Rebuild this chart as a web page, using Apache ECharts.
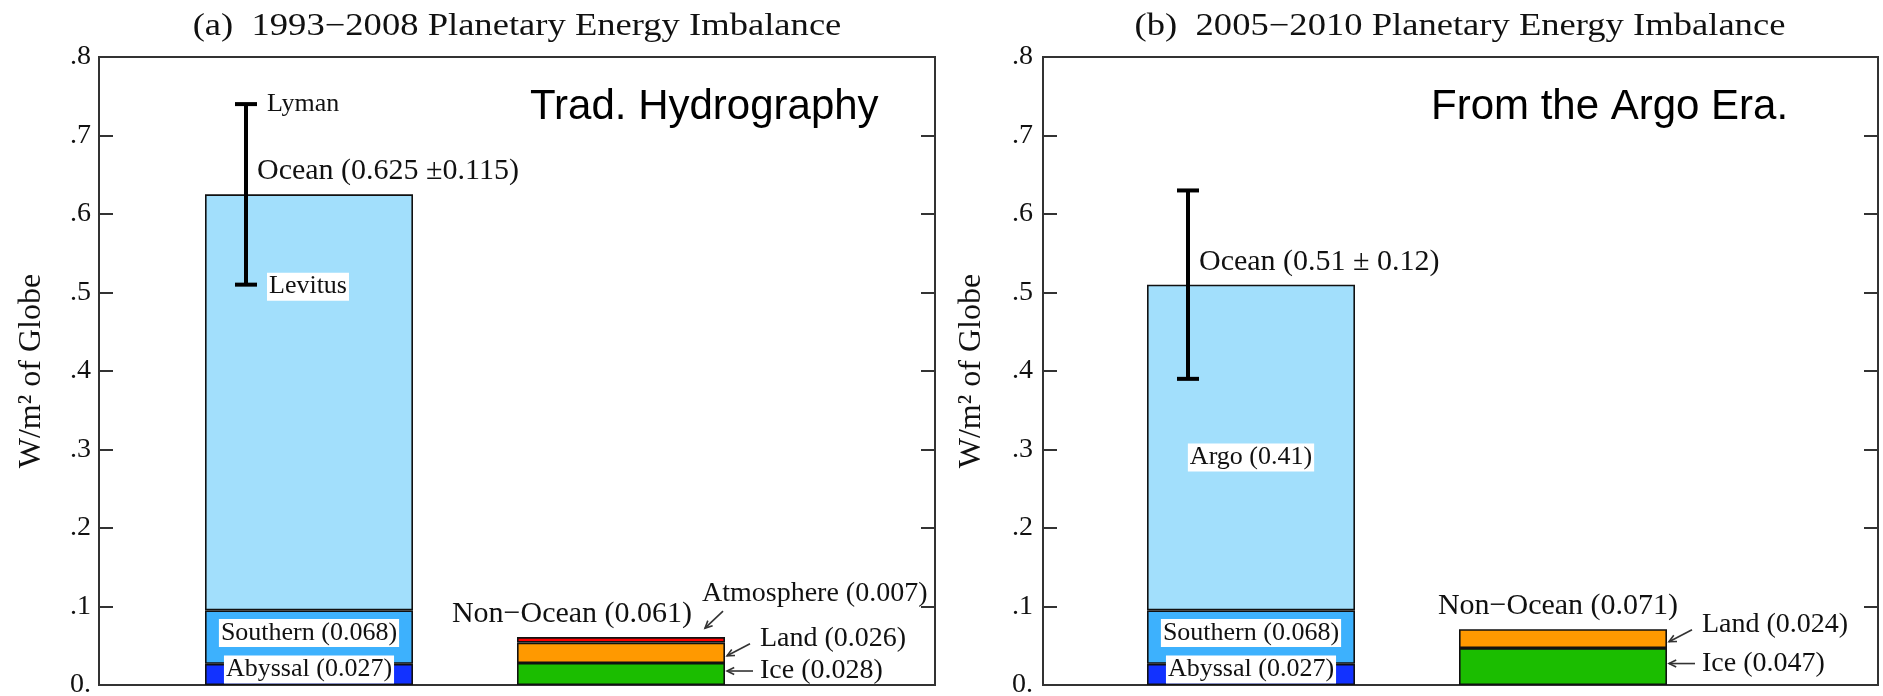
<!DOCTYPE html>
<html>
<head>
<meta charset="utf-8">
<script src="https://cdn.jsdelivr.net/npm/echarts@6/dist/echarts.min.js"></script>
<style>
  html, body { margin: 0; padding: 0; background: #fff; }
  #chart { width: 1883px; height: 696px; }
</style>
</head>
<body>
<div id="chart"></div>
<script>
// ---- data -------------------------------------------------------------
const panelTitles = ['(a)  1993\u22122008 Planetary Energy Imbalance', '(b)  2005\u22122010 Planetary Energy Imbalance'];
const panelNotes = ['Trad. Hydrography', 'From the Argo Era.'];
const categories = ['Ocean', 'Non-Ocean'];
const yTickLabels = ['0.', '.1', '.2', '.3', '.4', '.5', '.6', '.7', '.8'];

// ocean column, bottom to top (W/m^2 of globe)
const abyssal = [0.027, 0.027];
const southern = [0.068, 0.068];
const upperOcean = [0.530, 0.415];
const upperOceanNames = [null, 'Argo'];
const oceanTotal = [0.625, 0.51];
const oceanError = [0.115, 0.12];
const oceanLabels = ['Ocean (0.625 \u00b10.115)', 'Ocean (0.51 \u00b1 0.12)'];
const errorSources = [['Levitus', 'Lyman'], null];

// non-ocean column, bottom to top
const ice = [0.028, 0.047];
const land = [0.026, 0.024];
const atmosphere = [0.007, null];
const nonOceanTotal = [0.061, 0.071];

// ---- styling / layout -------------------------------------------------
const SERIF = "'Liberation Serif','Times New Roman',serif";
const SANS = "'Liberation Sans',Arial,sans-serif";
const INK = '#111';
const COLORS = {
  abyssal: '#1232ff', southern: '#3db1fd', upper: '#a2dffc',
  ice: '#1bbd00', land: '#ff9900', atmosphere: '#ff0000'
};
const BAR_WIDTH = 208;
const layout = [
  { frame: { left: 99, top: 57, width: 836, height: 628 }, bars: { left: 153, top: 57, width: 624, height: 628 },
    titleX: 517, noteX: 530, nonOceanDx: -49, nameGap: 51, labelMargin: 8 },
  { frame: { left: 1043, top: 57, width: 835, height: 628 }, bars: { left: 1095, top: 57, width: 624, height: 628 },
    titleX: 1460, noteX: 1431, nonOceanDx: -5, nameGap: 55, labelMargin: 10 }
];

function text(x, y, str, size, extra) {
  return {
    type: 'text', x: x, y: y,
    style: Object.assign({
      text: str, font: size + 'px ' + SERIF, fill: INK,
      align: 'left', verticalAlign: 'middle', textAlign: 'left', textVerticalAlign: 'middle'
    }, extra || {})
  };
}

function boxText(x, y, str) {
  return text(x, y, str, 26, {
    align: 'center', textAlign: 'center', backgroundColor: '#fff', padding: [1, 2]
  });
}

function arrow(x1, y1, x2, y2) {
  const a = Math.atan2(y2 - y1, x2 - x1), L = 8, s = 0.45;
  const st = { stroke: '#333', lineWidth: 1.6, fill: null };
  return [
    { type: 'line', shape: { x1: x1, y1: y1, x2: x2, y2: y2 }, style: st },
    { type: 'polyline', shape: { points: [
      [x2 - L * Math.cos(a - s), y2 - L * Math.sin(a - s)], [x2, y2],
      [x2 - L * Math.cos(a + s), y2 - L * Math.sin(a + s)]
    ] }, style: st }
  ];
}

// segment names, error bar, column totals and the side call-outs
function annotate(p, api) {
  const kids = [];
  const yOf = v => api.coord([0, v])[1];
  const oceanX = api.coord([0, 0])[0];
  const nonX = api.coord([1, 0])[0];
  const half = BAR_WIDTH / 2;

  // names inside the ocean column
  kids.push(boxText(oceanX, yOf(abyssal[p] / 2) - 5, 'Abyssal (' + abyssal[p].toFixed(3) + ')'));
  kids.push(boxText(oceanX, yOf(abyssal[p] + southern[p] / 2) - 4, 'Southern (' + southern[p].toFixed(3) + ')'));
  if (upperOceanNames[p]) {
    kids.push(boxText(oceanX, yOf(abyssal[p] + southern[p] + upperOcean[p] / 2) + 10,
      upperOceanNames[p] + ' (' + upperOcean[p].toFixed(2) + ')'));
  }

  // error bar
  const ex = oceanX - 63;
  const lo = oceanTotal[p] - oceanError[p];
  const hi = oceanTotal[p] + oceanError[p];
  const yLo = yOf(lo), yHi = yOf(hi), yTop = yOf(oceanTotal[p]);
  const bar = { stroke: '#000', lineWidth: 4 };
  kids.push({ type: 'line', shape: { x1: ex, y1: yLo, x2: ex, y2: yHi }, style: bar });
  kids.push({ type: 'line', shape: { x1: ex - 11, y1: yHi, x2: ex + 11, y2: yHi }, style: bar });
  kids.push({ type: 'line', shape: { x1: ex - 11, y1: yLo, x2: ex + 11, y2: yLo }, style: bar });
  kids.push(text(ex + 11, yTop - 23, oceanLabels[p], 30));
  if (errorSources[p]) {
    kids.push(text(ex + 21, yLo + 2, errorSources[p][0], 26, { backgroundColor: '#fff', padding: [1, 2] }));
    kids.push(text(ex + 21, yHi, errorSources[p][1], 26));
  }

  // Non-Ocean total above its column
  const yNon = yOf(nonOceanTotal[p]);
  kids.push(text(nonX + layout[p].nonOceanDx, yNon - 23,
    'Non\u2212Ocean (' + nonOceanTotal[p].toFixed(3) + ')', 30,
    { align: 'center', textAlign: 'center' }));

  const rx = nonX + half;
  if (atmosphere[p] != null) {
    kids.push(...arrow(rx - 2, yNon - 26, rx - 20, yNon - 9));
    kids.push(text(rx - 23, yNon - 43, 'Atmosphere (' + atmosphere[p].toFixed(3) + ')', 28));
  }
  const yLand = yOf(ice[p] + land[p] / 2);
  kids.push(...arrow(rx + 25, yLand - 9, rx + 2, yLand + 3));
  kids.push(text(rx + 35, yLand - 14, 'Land (' + land[p].toFixed(3) + ')', 28));
  const yIce = yOf(ice[p] / 2);
  kids.push(...arrow(rx + 28, yIce - 3, rx + 2, yIce - 3));
  kids.push(text(rx + 35, yIce - 3, 'Ice (' + ice[p].toFixed(3) + ')', 28));

  return { type: 'group', children: kids };
}

// ---- option -----------------------------------------------------------
const grid = [], xAxis = [], yAxis = [], series = [], graphic = [];

layout.forEach((L, p) => {
  const gFrame = grid.length;
  grid.push(Object.assign({}, L.frame, { show: true, borderColor: '#333', borderWidth: 2,
    backgroundColor: 'transparent', containLabel: false, outerBoundsMode: 'none' }));
  const gBars = grid.length;
  grid.push(Object.assign({}, L.bars, { show: false, containLabel: false, outerBoundsMode: 'none' }));

  xAxis.push({ gridIndex: gFrame, type: 'value', min: 0, max: 1, show: false });
  xAxis.push({ gridIndex: gBars, type: 'category', data: categories, show: false });

  const tick = { show: true, inside: true, length: 14, lineStyle: { color: '#333', width: 2 } };
  yAxis.push({
    gridIndex: gFrame, type: 'value', position: 'left', min: 0, max: 0.8, interval: 0.1,
    axisLine: { show: false }, axisTick: tick, splitLine: { show: false },
    axisLabel: { margin: L.labelMargin, formatter: (v, i) => yTickLabels[i], fontFamily: SERIF, fontSize: 28, color: INK },
    name: 'W/m\u00b2 of Globe', nameLocation: 'middle', nameRotate: 90, nameGap: L.nameGap,
    nameTextStyle: { fontFamily: SERIF, fontSize: 32, color: INK }
  });
  yAxis.push({
    gridIndex: gFrame, type: 'value', position: 'right', min: 0, max: 0.8, interval: 0.1,
    axisLine: { show: false }, axisTick: tick, axisLabel: { show: false }, splitLine: { show: false }
  });
  const yBars = yAxis.length;
  yAxis.push({ gridIndex: gBars, type: 'value', min: 0, max: 0.8, show: false });

  const seg = (name, data, color) => ({
    type: 'bar', name: name, stack: 'col' + p, xAxisIndex: gBars, yAxisIndex: yBars,
    barWidth: BAR_WIDTH, data: data, silent: true,
    itemStyle: { color: color, borderColor: '#111', borderWidth: 1.6 },
    label: { show: false }
  });

  series.push(seg('Abyssal', [abyssal[p], '-'], COLORS.abyssal));
  series.push(seg('Southern', [southern[p], '-'], COLORS.southern));
  series.push(seg(upperOceanNames[p] || 'Upper ocean', [upperOcean[p], '-'], COLORS.upper));
  series.push(seg('Ice', ['-', ice[p]], COLORS.ice));
  series.push(seg('Land', ['-', land[p]], COLORS.land));
  if (atmosphere[p] != null) series.push(seg('Atmosphere', ['-', atmosphere[p]], COLORS.atmosphere));

  series.push({
    type: 'custom', coordinateSystem: 'cartesian2d', xAxisIndex: gBars, yAxisIndex: yBars,
    data: [[0, 0]], silent: true, clip: false, z: 10,
    renderItem: (params, api) => annotate(p, api)
  });

  graphic.push({
    type: 'text', x: L.titleX, y: 27, scaleX: 1.18,
    style: { text: panelTitles[p], font: '31px ' + SERIF, fill: INK,
      align: 'center', verticalAlign: 'middle', textAlign: 'center', textVerticalAlign: 'middle' }
  });
  graphic.push({
    type: 'text', x: L.noteX, y: 107,
    style: { text: panelNotes[p], font: '42px ' + SANS, fill: '#000',
      align: 'left', verticalAlign: 'middle', textAlign: 'left', textVerticalAlign: 'middle' }
  });
});

const chart = echarts.init(document.getElementById('chart'), null, { renderer: 'canvas' });
chart.setOption({
  backgroundColor: '#fff',
  animation: false,
  grid: grid, xAxis: xAxis, yAxis: yAxis, series: series, graphic: graphic
});
</script>
</body>
</html>
